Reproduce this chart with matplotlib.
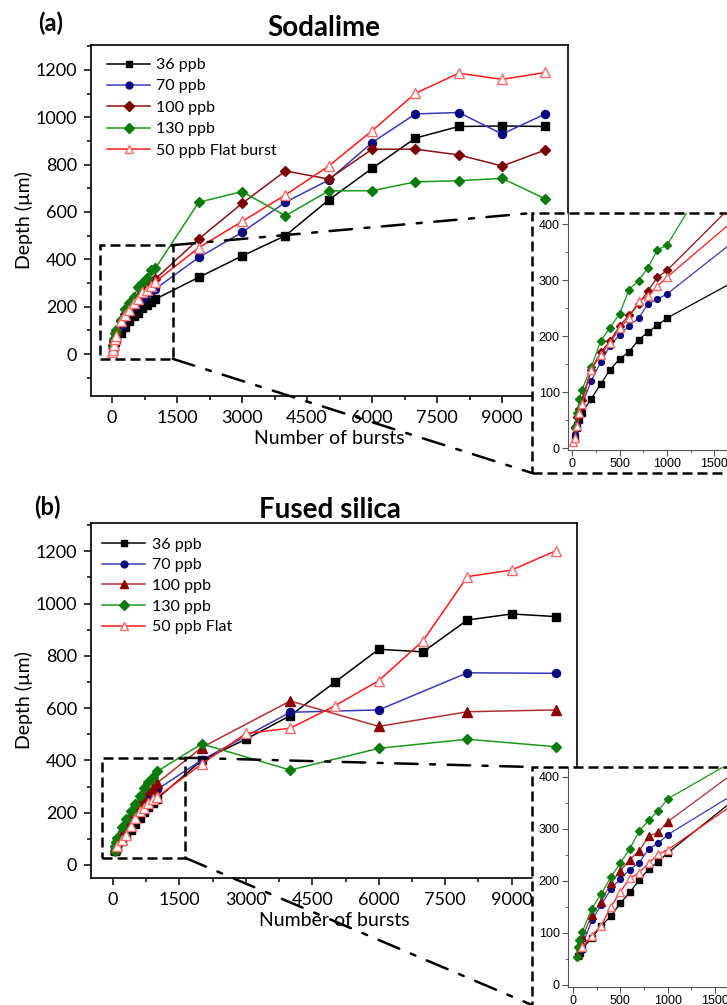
import matplotlib
matplotlib.use("Agg")
import matplotlib.pyplot as plt
from matplotlib.patches import Rectangle, ConnectionPatch
from matplotlib.ticker import MultipleLocator

plt.rcParams['font.family'] = ['Lato', 'DejaVu Sans']

# ---- data, panel (a) Sodalime ----
a_x = [25, 50, 75, 100, 200, 300, 400, 500, 600, 700, 800, 900, 1000,
       2000, 3000, 4000, 5000, 6000, 7000, 8000, 9000, 10000]
a_36 = [18, 36, 50, 62, 88, 114, 140, 159, 172, 193, 207, 219, 232,
        324, 414, 500, 651, 784, 912, 961, 963, 961]
a_70 = [25, 45, 60, 75, 120, 153, 183, 202, 218, 232, 257, 266, 275,
        408, 514, 641, 735, 893, 1014, 1020, 929, 1014]
a_100 = [38, 55, 70, 85, 140, 171, 191, 218, 237, 257, 281, 305, 317,
         486, 636, 773, 739, 865, 865, 841, 794, 862]
a_130 = [35, 62, 88, 103, 144, 191, 215, 240, 283, 299, 322, 354, 362,
         641, 686, 584, 689, 690, 727, 732, 742, 655]
a_flat_x = [10, 25, 50, 75, 100, 200, 300, 400, 500, 600, 700, 800, 900, 1000,
            2000, 3000, 4000, 5000, 6000, 7000, 8000, 9000, 10000]
a_flat = [10, 18, 40, 62, 78, 140, 166, 188, 214, 232, 262, 272, 289, 305,
          449, 560, 672, 794, 943, 1101, 1186, 1160, 1189]

# ---- data, panel (b) Fused silica ----
b_36_x = [50, 75, 100, 200, 300, 400, 500, 600, 700, 800, 900, 1000,
          2000, 3000, 4000, 5000, 6000, 7000, 8000, 9000, 10000]
b_36 = [55, 62, 70, 90, 114, 132, 157, 178, 202, 223, 237, 254,
        400, 481, 571, 698, 825, 815, 937, 960, 950]
b_x = [50, 75, 100, 200, 300, 400, 500, 600, 700, 800, 900, 1000,
       2000, 4000, 6000, 8000, 10000]
b_70 = [55, 65, 75, 124, 154, 184, 204, 222, 235, 262, 273, 289,
        401, 584, 593, 735, 733]
b_100 = [60, 80, 92, 134, 160, 196, 219, 241, 258, 286, 294, 314,
         449, 627, 530, 586, 593]
b_130_x = [40, 50, 70, 100, 200, 300, 400, 500, 600, 700, 800, 900, 1000,
           2000, 4000, 6000, 8000, 10000]
b_130 = [54, 72, 86, 102, 147, 175, 207, 234, 262, 296, 317, 335, 358,
         463, 363, 446, 481, 452]
b_flat_x = [100, 200, 300, 400, 500, 600, 700, 800, 900, 1000,
            2000, 3000, 4000, 5000, 6000, 7000, 8000, 9000, 10000]
b_flat = [72, 95, 114, 150, 179, 205, 216, 235, 251, 260,
          386, 503, 523, 608, 705, 858, 1103, 1128, 1202]

labels_a = ['36 ppb', '70 ppb', '100 ppb', '130 ppb', '50 ppb Flat burst']
labels_b = ['36 ppb', '70 ppb', '100 ppb', '130 ppb', '50 ppb Flat']

W, H = 727, 1005
fig = plt.figure(figsize=(W / 100, H / 100), dpi=100)


def fr(x0, y0, x1, y1):
    # pixel box (top-left origin) -> figure fraction rect
    return [x0 / W, 1 - y1 / H, (x1 - x0) / W, (y1 - y0) / H]


def styles(panel):
    s36 = dict(color='black', marker='s', mfc='black', mec='black')
    s70 = dict(color='#3a3ab8', marker='o', mfc='#0a0a80', mec='#0a0a80')
    s130 = dict(color='#1a9a1a', marker='D', mfc='#0a7a0a', mec='#0a7a0a')
    sflat = dict(color='#ff1a1a', marker='^', mfc='white', mec='#ff6a6a')
    if panel == 'a':
        s100 = dict(color='#8b1010', marker='D', mfc='#7a0000', mec='#7a0000')
    else:
        s100 = dict(color='#b03030', marker='^', mfc='#8b0000', mec='#8b0000')
    return s36, s70, s100, s130, sflat


def draw_series(ax, series, panel, ms, lw):
    st = styles(panel)
    hs = []
    for (x, y, lab), s in zip(series, st):
        m = ms
        if s['marker'] == 'D':
            m = ms * 0.95
        elif s['marker'] == '^':
            m = ms * 1.3
        elif s['marker'] == 's':
            m = ms * 0.9
        h, = ax.plot(x, y, lw=lw, ms=m, mew=1.0, label=lab, **s)
        hs.append(h)
    return hs


def style_main(ax, xl, yl):
    ax.set_xlim(*xl)
    ax.set_ylim(*yl)
    ax.xaxis.set_major_locator(MultipleLocator(1500))
    ax.xaxis.set_minor_locator(MultipleLocator(750))
    ax.yaxis.set_major_locator(MultipleLocator(200))
    ax.yaxis.set_minor_locator(MultipleLocator(100))
    ax.tick_params(which='both', direction='out', top=False, right=False,
                   labelsize=13, width=1.1)
    ax.tick_params(which='major', length=5, pad=5)
    ax.tick_params(which='minor', length=3)
    for s in ax.spines.values():
        s.set_linewidth(1.2)
    ax.set_xlabel('Number of bursts', fontsize=14, labelpad=3)
    ax.set_ylabel('Depth (µm)', fontsize=14, labelpad=2)


def style_inset(ax, xl, yl):
    ax.set_xlim(*xl)
    ax.set_ylim(*yl)
    ax.set_facecolor('none')
    ax.xaxis.set_major_locator(MultipleLocator(500))
    ax.xaxis.set_minor_locator(MultipleLocator(250))
    ax.yaxis.set_major_locator(MultipleLocator(100))
    ax.yaxis.set_minor_locator(MultipleLocator(50))
    ax.tick_params(which='both', direction='out', top=False, right=False,
                   labelsize=9, color='#555555', pad=2)
    ax.tick_params(which='major', length=4)
    ax.tick_params(which='minor', length=2)
    for lab in ax.get_xticklabels() + ax.get_yticklabels():
        lab.set_family('Liberation Sans')
    ax.spines['top'].set_visible(False)
    ax.spines['right'].set_visible(False)
    for k in ('left', 'bottom'):
        ax.spines[k].set_color('#555555')


dash = (0, (4, 2))
dashdot = (0, (9, 5, 2, 5))

# ---------------- panel (a) ----------------
ax1 = fig.add_axes(fr(91, 45, 568, 396), zorder=0)
ser_a = [(a_x, a_36, labels_a[0]), (a_x, a_70, labels_a[1]),
         (a_x, a_100, labels_a[2]), (a_x, a_130, labels_a[3]),
         (a_flat_x, a_flat, labels_a[4])]
draw_series(ax1, ser_a, 'a', 5.8, 1.1)
style_main(ax1, (-485, 10520), (-177, 1305))
ax1.legend(loc='upper left', bbox_to_anchor=(0.01, 0.995), frameon=False,
           fontsize=11.5, handlelength=2.7, handletextpad=0.4,
           labelspacing=0.45, borderaxespad=0.3, markerscale=0.85)
ax1.add_patch(Rectangle((-280, -20), 1680, 480, fill=False, ec='black',
                        lw=1.8, ls=dash, zorder=4))
fig.text(38 / W, 1 - 23 / H, '(a)', fontsize=17, fontweight='bold',
         ha='left', va='center')
fig.text(324 / W, 1 - 28 / H, 'Sodalime', fontsize=20, fontweight='bold',
         ha='center', va='center')

box_a = Rectangle((532 / W, 1 - 473 / H), 0.4, 260 / H, transform=fig.transFigure,
                  fc='white', ec='black', lw=1.8, ls=dash, zorder=1)
fig.add_artist(box_a)
for pa, pb in [((1400, 460), (532, 213)), ((1400, -20), (532, 473))]:
    cp = ConnectionPatch(xyA=pa, coordsA=ax1.transData,
                         xyB=(pb[0] / W, 1 - pb[1] / H), coordsB=fig.transFigure,
                         color='black', lw=1.8, ls=dashdot, zorder=1)
    fig.add_artist(cp)

ins1 = fig.add_axes(fr(568, 212.8, 568 + 2045 * 0.0947, 449.7), zorder=2)
draw_series(ins1, ser_a, 'a', 4.2, 0.9)
style_inset(ins1, (-45, 2000), (-3, 420))

# ---------------- panel (b) ----------------
ax2 = fig.add_axes(fr(91, 523, 577, 878), zorder=0)
ser_b = [(b_36_x, b_36, labels_b[0]), (b_x, b_70, labels_b[1]),
         (b_x, b_100, labels_b[2]), (b_130_x, b_130, labels_b[3]),
         (b_flat_x, b_flat, labels_b[4])]
draw_series(ax2, ser_b, 'b', 5.8, 1.1)
style_main(ax2, (-497, 10474), (-50, 1308))
ax2.legend(loc='upper left', bbox_to_anchor=(0.0, 0.99), frameon=False,
           fontsize=11.5, handlelength=2.7, handletextpad=0.4,
           labelspacing=0.4, borderaxespad=0.3, markerscale=0.85)
ax2.add_patch(Rectangle((-250, 27), 1880, 383, fill=False, ec='black',
                        lw=1.8, ls=dash, zorder=4))
fig.text(34 / W, 1 - 507 / H, '(b)', fontsize=17, fontweight='bold',
         ha='left', va='center')
fig.text(330 / W, 1 - 510 / H, 'Fused silica', fontsize=20, fontweight='bold',
         ha='center', va='center')

box_b = Rectangle((532 / W, -0.1), 0.4, 0.1 + 1 - 767 / H, transform=fig.transFigure,
                  fc='white', ec='black', lw=1.8, ls=dash, zorder=1)
fig.add_artist(box_b)
for pa, pb in [((1630, 410), (532, 767)), ((1630, 27), (532, 1005))]:
    cp = ConnectionPatch(xyA=pa, coordsA=ax2.transData,
                         xyB=(pb[0] / W, 1 - pb[1] / H), coordsB=fig.transFigure,
                         color='black', lw=1.8, ls=dashdot, zorder=1)
    fig.add_artist(cp)

ins2 = fig.add_axes(fr(568, 766.6, 568 + 2050 * 0.095, 987), zorder=2)
draw_series(ins2, ser_b, 'b', 4.2, 0.9)
style_inset(ins2, (-50, 2000), (-4, 420))

fig.savefig('out.png', dpi=100)
